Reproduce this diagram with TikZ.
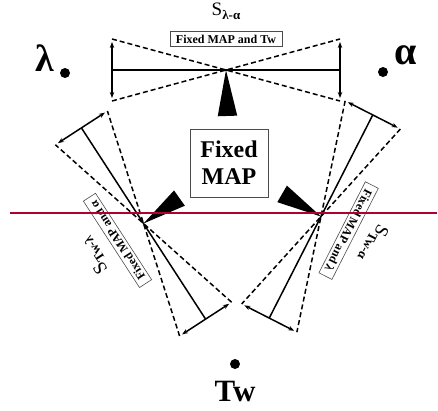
\documentclass[tikz,border=0pt]{standalone}
\usepackage{fontspec}
\setmainfont{Liberation Serif}
\usetikzlibrary{calc,arrows.meta}
\definecolor{cutred}{RGB}{176,0,48}
\tikzset{
  tieline/.style={line width=1.5pt},
  tiedash/.style={line width=1.5pt,dash pattern=on 5pt off 3pt},
  fixbox/.style={draw=black!70,line width=0.6pt,inner xsep=6pt,inner ysep=3pt,font=\fontsize{12}{14}\selectfont\bfseries},
  dot/.style={circle,fill,inner sep=0pt,minimum size=10pt}
}
% #1,#2 centre, #3 angle, #4 box text, #5 subscript, #6 name
\newcommand{\drawtie}[6]{%
  \begin{scope}[shift={(#1,#2)},rotate=#3]
    \coordinate (#6) at (0,0);
    \draw[tieline] (-114,0) -- (114,0);
    \draw[tiedash] (-114,-31) -- (114,31);
    \draw[tiedash] (-114,31) -- (114,-31);
    \draw[tieline,<->] (-114,-28) -- (-114,28);
    \draw[tieline,<->] (114,-28) -- (114,28);
    \node[fixbox,rotate=#3] (#6box) at (0,-31) {#4};
    \node[rotate=#3,inner sep=1pt] (#6lab) at (0,-59) {\fontsize{19}{20}\selectfont S\raisebox{-0.45ex}{\fontsize{13}{14}\selectfont\bfseries #5}};
  \end{scope}}
\begin{document}
\begin{tikzpicture}[x=1pt,y=-1pt,>={Stealth[length=6pt,width=4.5pt]}]
\useasboundingbox (0,0) rectangle (438,410);
% the three planes
\drawtie{226}{70}{0}{Fixed MAP and Tw}{λ-α}{tla}
\drawtie{143.5}{223.5}{123}{Fixed MAP and α}{Tw-λ}{ttl}
\drawtie{321}{216.5}{243}{Fixed MAP and λ}{Tw-α}{tta}
% centre box and wedges
\node[draw=black!70,line width=0.7pt,align=center,minimum width=78pt,minimum height=68pt,font=\fontsize{24}{27}\selectfont\bfseries] (map) at (229,163) {Fixed\\MAP};
\fill ($(tla)!47pt!12:(map)$) -- (tla) -- ($(tla)!47pt!-12:(map)$) -- cycle;
\fill ($(ttl)!45pt!12:(map)$) -- (ttl) -- ($(ttl)!45pt!-12:(map)$) -- cycle;
\fill ($(tta)!46pt!12:(map)$) -- (tta) -- ($(tta)!46pt!-12:(map)$) -- cycle;
% points
\node[dot] (lamdot) at (65,73) {};
\node[font=\fontsize{38}{40}\selectfont\bfseries] (lamlab) at (45,58) {λ};
\node[dot] (alpdot) at (383,72) {};
\node[font=\fontsize{40}{42}\selectfont\bfseries] (alplab) at (406,55) {α};
\node[dot] (twdot) at (235,364) {};
\node[font=\fontsize{31}{33}\selectfont\bfseries] (twlab) at (235,391) {Tw};
% cut line
\draw[cutred,line width=1.6pt] (10,213) -- (437,213);
\end{tikzpicture}
\end{document}
